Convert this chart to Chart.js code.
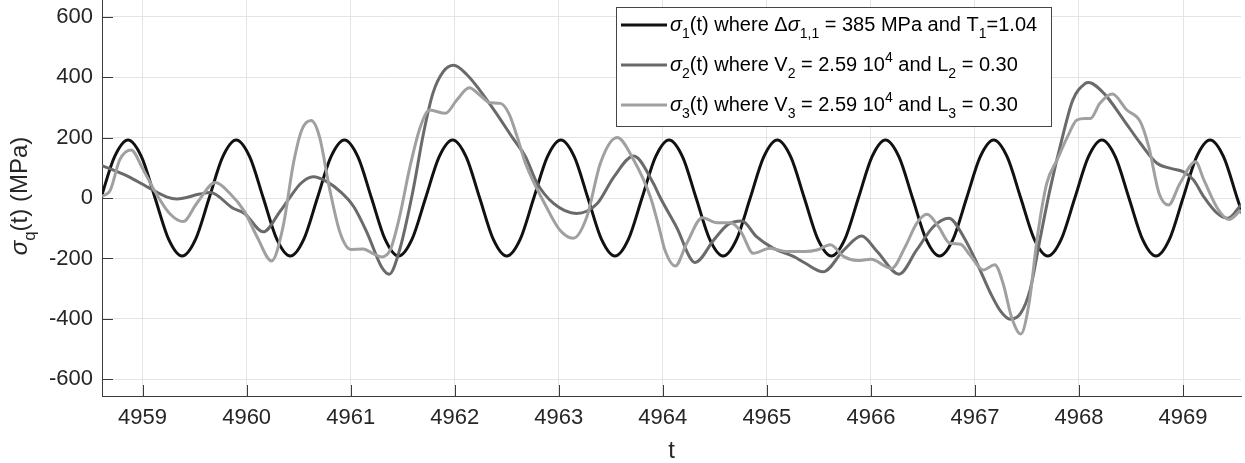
<!DOCTYPE html>
<html>
<head>
<meta charset="utf-8">
<script src="https://cdn.jsdelivr.net/npm/chart.js@4.4.0/dist/chart.umd.min.js"></script>
<style>
  html, body { margin: 0; padding: 0; background: #fff; }
  #wrap { width: 1245px; height: 463px; }
</style>
</head>
<body>
<div id="wrap"><canvas id="chart" width="1245" height="463"></canvas></div>
<script>
const X_MIN = 4958.61;
const X_MAX = 4969.557;
const Y_MIN = -655;
const Y_MAX = 655;
const X_TICKS = [4959, 4960, 4961, 4962, 4963, 4964, 4965, 4966, 4967, 4968, 4969];
const Y_TICKS = [-600, -400, -200, 0, 200, 400, 600];

// sigma_1 : read at every 1/8 period
const S1_T = [
  4958.60, 4958.73, 4958.86, 4958.99, 4959.12, 4959.25, 4959.38, 4959.51,
  4959.64, 4959.77, 4959.90, 4960.03, 4960.16, 4960.29, 4960.42, 4960.55,
  4960.68, 4960.81, 4960.94, 4961.07, 4961.20, 4961.33, 4961.46, 4961.59,
  4961.72, 4961.85, 4961.98, 4962.11, 4962.24, 4962.37, 4962.50, 4962.63,
  4962.76, 4962.89, 4963.02, 4963.15, 4963.28, 4963.41, 4963.54, 4963.67,
  4963.80, 4963.93, 4964.06, 4964.19, 4964.32, 4964.45, 4964.58, 4964.71,
  4964.84, 4964.97, 4965.10, 4965.23, 4965.36, 4965.49, 4965.62, 4965.75,
  4965.88, 4966.01, 4966.14, 4966.27, 4966.40, 4966.53, 4966.66, 4966.79,
  4966.92, 4967.05, 4967.18, 4967.31, 4967.44, 4967.57, 4967.70, 4967.83,
  4967.96, 4968.09, 4968.22, 4968.35, 4968.48, 4968.61, 4968.74, 4968.87,
  4969.00, 4969.13, 4969.26, 4969.39, 4969.52, 4969.65
];
const S1_V = [
  0, 136, 192, 136, 0, -136, -192, -136,
  0, 136, 192, 136, 0, -136, -192, -136,
  0, 136, 192, 136, 0, -136, -192, -136,
  0, 136, 192, 136, 0, -136, -192, -136,
  0, 136, 192, 136, 0, -136, -192, -136,
  0, 136, 192, 136, 0, -136, -192, -136,
  0, 136, 192, 136, 0, -136, -192, -136,
  0, 136, 192, 136, 0, -136, -192, -136,
  0, 136, 192, 136, 0, -136, -192, -136,
  0, 136, 192, 136, 0, -136, -192, -136,
  0, 136, 192, 136, 0, -136
];

const S2_T = [
  4958.61, 4958.85, 4959.07, 4959.23, 4959.33, 4959.55, 4959.65, 4959.87,
  4959.98, 4960.16, 4960.32, 4960.42, 4960.52, 4960.64, 4960.77, 4960.90,
  4961.03, 4961.16, 4961.30, 4961.37, 4961.47, 4961.60, 4961.70, 4961.79,
  4961.89, 4961.99, 4962.12, 4962.24, 4962.40, 4962.56, 4962.68, 4962.79,
  4962.95, 4963.17, 4963.37, 4963.53, 4963.72, 4963.91, 4963.97, 4964.13,
  4964.31, 4964.49, 4964.62, 4964.76, 4964.90, 4965.06, 4965.26, 4965.37,
  4965.54, 4965.74, 4965.91, 4966.06, 4966.27, 4966.44, 4966.60, 4966.75,
  4966.89, 4967.02, 4967.15, 4967.25, 4967.34, 4967.44, 4967.53, 4967.63,
  4967.72, 4967.85, 4967.94, 4968.06, 4968.09, 4968.24, 4968.43, 4968.59,
  4968.75, 4968.88, 4969.00, 4969.10, 4969.20, 4969.33, 4969.43, 4969.557
];
const S2_V = [
  107, 73, 32, 4, -3, 13, 18, -34,
  -51, -112, -45, 4, 48, 70, 54, 21,
  -29, -117, -230, -252, -172, 26, 214, 346,
  418, 439, 407, 357, 280, 197, 137, 50,
  -18, -51, -18, 70, 139, 48, 5, -95,
  -213, -139, -89, -76, -128, -166, -194, -216,
  -244, -172, -126, -177, -252, -172, -95, -67,
  -128, -216, -315, -376, -401, -381, -304, -128,
  26, 214, 324, 379, 382, 346, 258, 181,
  115, 98, 87, 60, 4, -51, -67, -23
];

const S3_T = [
  4958.61, 4958.69, 4958.78, 4958.89, 4959.00, 4959.13, 4959.26, 4959.39,
  4959.52, 4959.70, 4959.84, 4959.98, 4960.10, 4960.24, 4960.35, 4960.45,
  4960.53, 4960.62, 4960.70, 4960.80, 4960.90, 4961.00, 4961.12, 4961.22,
  4961.30, 4961.38, 4961.47, 4961.57, 4961.67, 4961.76, 4961.91, 4962.02,
  4962.14, 4962.24, 4962.34, 4962.44, 4962.52, 4962.60, 4962.68, 4962.88,
  4963.01, 4963.14, 4963.27, 4963.40, 4963.56, 4963.72, 4963.88, 4963.97,
  4964.02, 4964.12, 4964.23, 4964.38, 4964.52, 4964.65, 4964.75, 4964.87,
  4965.03, 4965.19, 4965.37, 4965.48, 4965.61, 4965.74, 4965.87, 4966.00,
  4966.20, 4966.33, 4966.44, 4966.54, 4966.65, 4966.76, 4966.86, 4966.95,
  4967.08, 4967.19, 4967.27, 4967.35, 4967.44, 4967.52, 4967.60, 4967.69,
  4967.79, 4967.89, 4967.98, 4968.06, 4968.11, 4968.20, 4968.32, 4968.46,
  4968.59, 4968.67, 4968.77, 4968.86, 4968.97, 4969.12, 4969.20, 4969.33,
  4969.44, 4969.557
];
const S3_V = [
  5, 26, 126, 159, 98, 15, -51, -78,
  -18, 51, 15, -45, -128, -208, -95, 115,
  225, 256, 203, 26, -117, -170, -169, -185,
  -195, -172, -62, 104, 236, 291, 280, 324,
  365, 341, 315, 313, 280, 203, 115, -29,
  -106, -133, -62, 115, 200, 126, 4, -106,
  -172, -225, -150, -65, -82, -82, -111, -183,
  -166, -177, -177, -172, -155, -194, -207, -203,
  -233, -161, -84, -54, -95, -150, -153, -188,
  -238, -221, -282, -392, -450, -348, -128, 48,
  126, 203, 258, 263, 263, 313, 344, 291,
  252, 170, 15, -23, 48, 120, 60, -34,
  -71, -40
];

const COLORS = ['#111111', '#6a6a6a', '#a0a0a0'];

// legend rows: [text, kind] kind: n normal, i italic, b subscript, p superscript
const LEGEND_ROWS = [
  [['σ','i'],['1','b'],['(t) where Δ','n'],['σ','i'],['1,1','b'],[' = 385 MPa and T','n'],['1','b'],['=1.04','n']],
  [['σ','i'],['2','b'],['(t) where V','n'],['2','b'],[' = 2.59 10','n'],['4','p'],[' and L','n'],['2','b'],[' = 0.30','n']],
  [['σ','i'],['3','b'],['(t) where V','n'],['3','b'],[' = 2.59 10','n'],['4','p'],[' and L','n'],['3','b'],[' = 0.30','n']]
];
const Y_TITLE = [['σ','i'],['q','b'],['(t) (MPa)','n']];
const X_TITLE = 't';

const FONT = '"Liberation Sans", Arial, Helvetica, sans-serif';
const AXIS_COLOR = '#3a3a3a';
const TEXT_COLOR = '#262626';

function toPoints(ts, vs) {
  return ts.map((t, i) => ({ x: t, y: vs[i] }));
}

function fontFor(kind, size) {
  const fs = (kind === 'b' || kind === 'p') ? size * 0.7 : size;
  return (kind === 'i' ? 'italic ' : '') + fs + 'px ' + FONT;
}

function richWidth(ctx, parts, size) {
  let w = 0;
  parts.forEach(([t, k]) => { ctx.font = fontFor(k, size); w += ctx.measureText(t).width; });
  return w;
}

function drawRich(ctx, parts, x, y, size) {
  parts.forEach(([t, k]) => {
    ctx.font = fontFor(k, size);
    let dy = 0;
    if (k === 'b') dy = size * 0.33;
    if (k === 'p') dy = -size * 0.45;
    ctx.fillText(t, x, y + dy);
    x += ctx.measureText(t).width;
  });
}

const decor = {
  id: 'decor',
  afterDraw(chart) {
    const { ctx, chartArea: a, scales } = chart;
    const xs = scales.x, ys = scales.y;
    ctx.save();

    // inward tick marks
    ctx.strokeStyle = AXIS_COLOR;
    ctx.lineWidth = 1;
    ctx.beginPath();
    xs.ticks.forEach(t => {
      const px = Math.round(xs.getPixelForValue(t.value)) + 0.5;
      ctx.moveTo(px, a.bottom); ctx.lineTo(px, a.bottom - 11);
    });
    ys.ticks.forEach(t => {
      const py = Math.round(ys.getPixelForValue(t.value)) + 0.5;
      ctx.moveTo(a.left, py); ctx.lineTo(a.left + 11, py);
    });
    ctx.stroke();

    // legend box
    const bx = 616.5, by = 7.5, bw = 435, bh = 119;
    ctx.fillStyle = '#ffffff';
    ctx.fillRect(bx, by, bw, bh);
    ctx.strokeStyle = '#454545';
    ctx.strokeRect(bx, by, bw, bh);
    LEGEND_ROWS.forEach((row, i) => {
      const ly = 25 + i * 40;
      ctx.strokeStyle = COLORS[i];
      ctx.lineWidth = 3;
      ctx.beginPath(); ctx.moveTo(621, ly); ctx.lineTo(667, ly); ctx.stroke();
      ctx.fillStyle = '#000000';
      ctx.textBaseline = 'alphabetic';
      ctx.textAlign = 'left';
      drawRich(ctx, row, 670, ly + 6, 20);
    });

    // axis titles
    ctx.fillStyle = TEXT_COLOR;
    ctx.textBaseline = 'alphabetic';
    ctx.textAlign = 'left';
    ctx.font = '24px ' + FONT;
    const tw = ctx.measureText(X_TITLE).width;
    ctx.fillText(X_TITLE, (a.left + a.right) / 2 - tw / 2, 458);

    ctx.translate(27, 196);
    ctx.rotate(-Math.PI / 2);
    const yw = richWidth(ctx, Y_TITLE, 24);
    drawRich(ctx, Y_TITLE, -yw / 2, 0, 24);
    ctx.restore();
  }
};

new Chart(document.getElementById('chart'), {
  type: 'line',
  data: {
    datasets: [
      { label: 'sigma1', data: toPoints(S1_T, S1_V), borderColor: COLORS[0], order: 3 },
      { label: 'sigma2', data: toPoints(S2_T, S2_V), borderColor: COLORS[1], order: 2 },
      { label: 'sigma3', data: toPoints(S3_T, S3_V), borderColor: COLORS[2], order: 1 }
    ]
  },
  options: {
    responsive: false,
    animation: false,
    events: [],
    layout: { padding: { left: 0, right: 4, top: 0, bottom: 0 } },
    datasets: {
      line: {
        borderWidth: 3, pointRadius: 0, fill: false,
        cubicInterpolationMode: 'monotone', clip: 0
      }
    },
    plugins: { legend: { display: false }, tooltip: { enabled: false } },
    scales: {
      x: {
        type: 'linear', min: X_MIN, max: X_MAX,
        afterBuildTicks: s => { s.ticks = X_TICKS.map(v => ({ value: v })); },
        afterFit: s => { s.height = 67; s.paddingLeft = 0; s.paddingRight = 0; },
        ticks: {
          color: TEXT_COLOR, padding: 9, maxRotation: 0, autoSkip: false,
          font: { family: FONT, size: 22 }, callback: v => String(v)
        },
        grid: { color: '#e4e4e4', drawTicks: false },
        border: { display: true, color: AXIS_COLOR, width: 1 }
      },
      y: {
        type: 'linear', min: Y_MIN, max: Y_MAX,
        afterBuildTicks: s => { s.ticks = Y_TICKS.map(v => ({ value: v })); },
        afterFit: s => { s.width = 102; s.paddingTop = 0; s.paddingBottom = 0; },
        ticks: {
          color: TEXT_COLOR, padding: 9,
          font: { family: FONT, size: 22 }, callback: v => String(v)
        },
        grid: { color: '#e4e4e4', drawTicks: false },
        border: { display: true, color: AXIS_COLOR, width: 1 }
      }
    }
  },
  plugins: [decor]
});
</script>
</body>
</html>
